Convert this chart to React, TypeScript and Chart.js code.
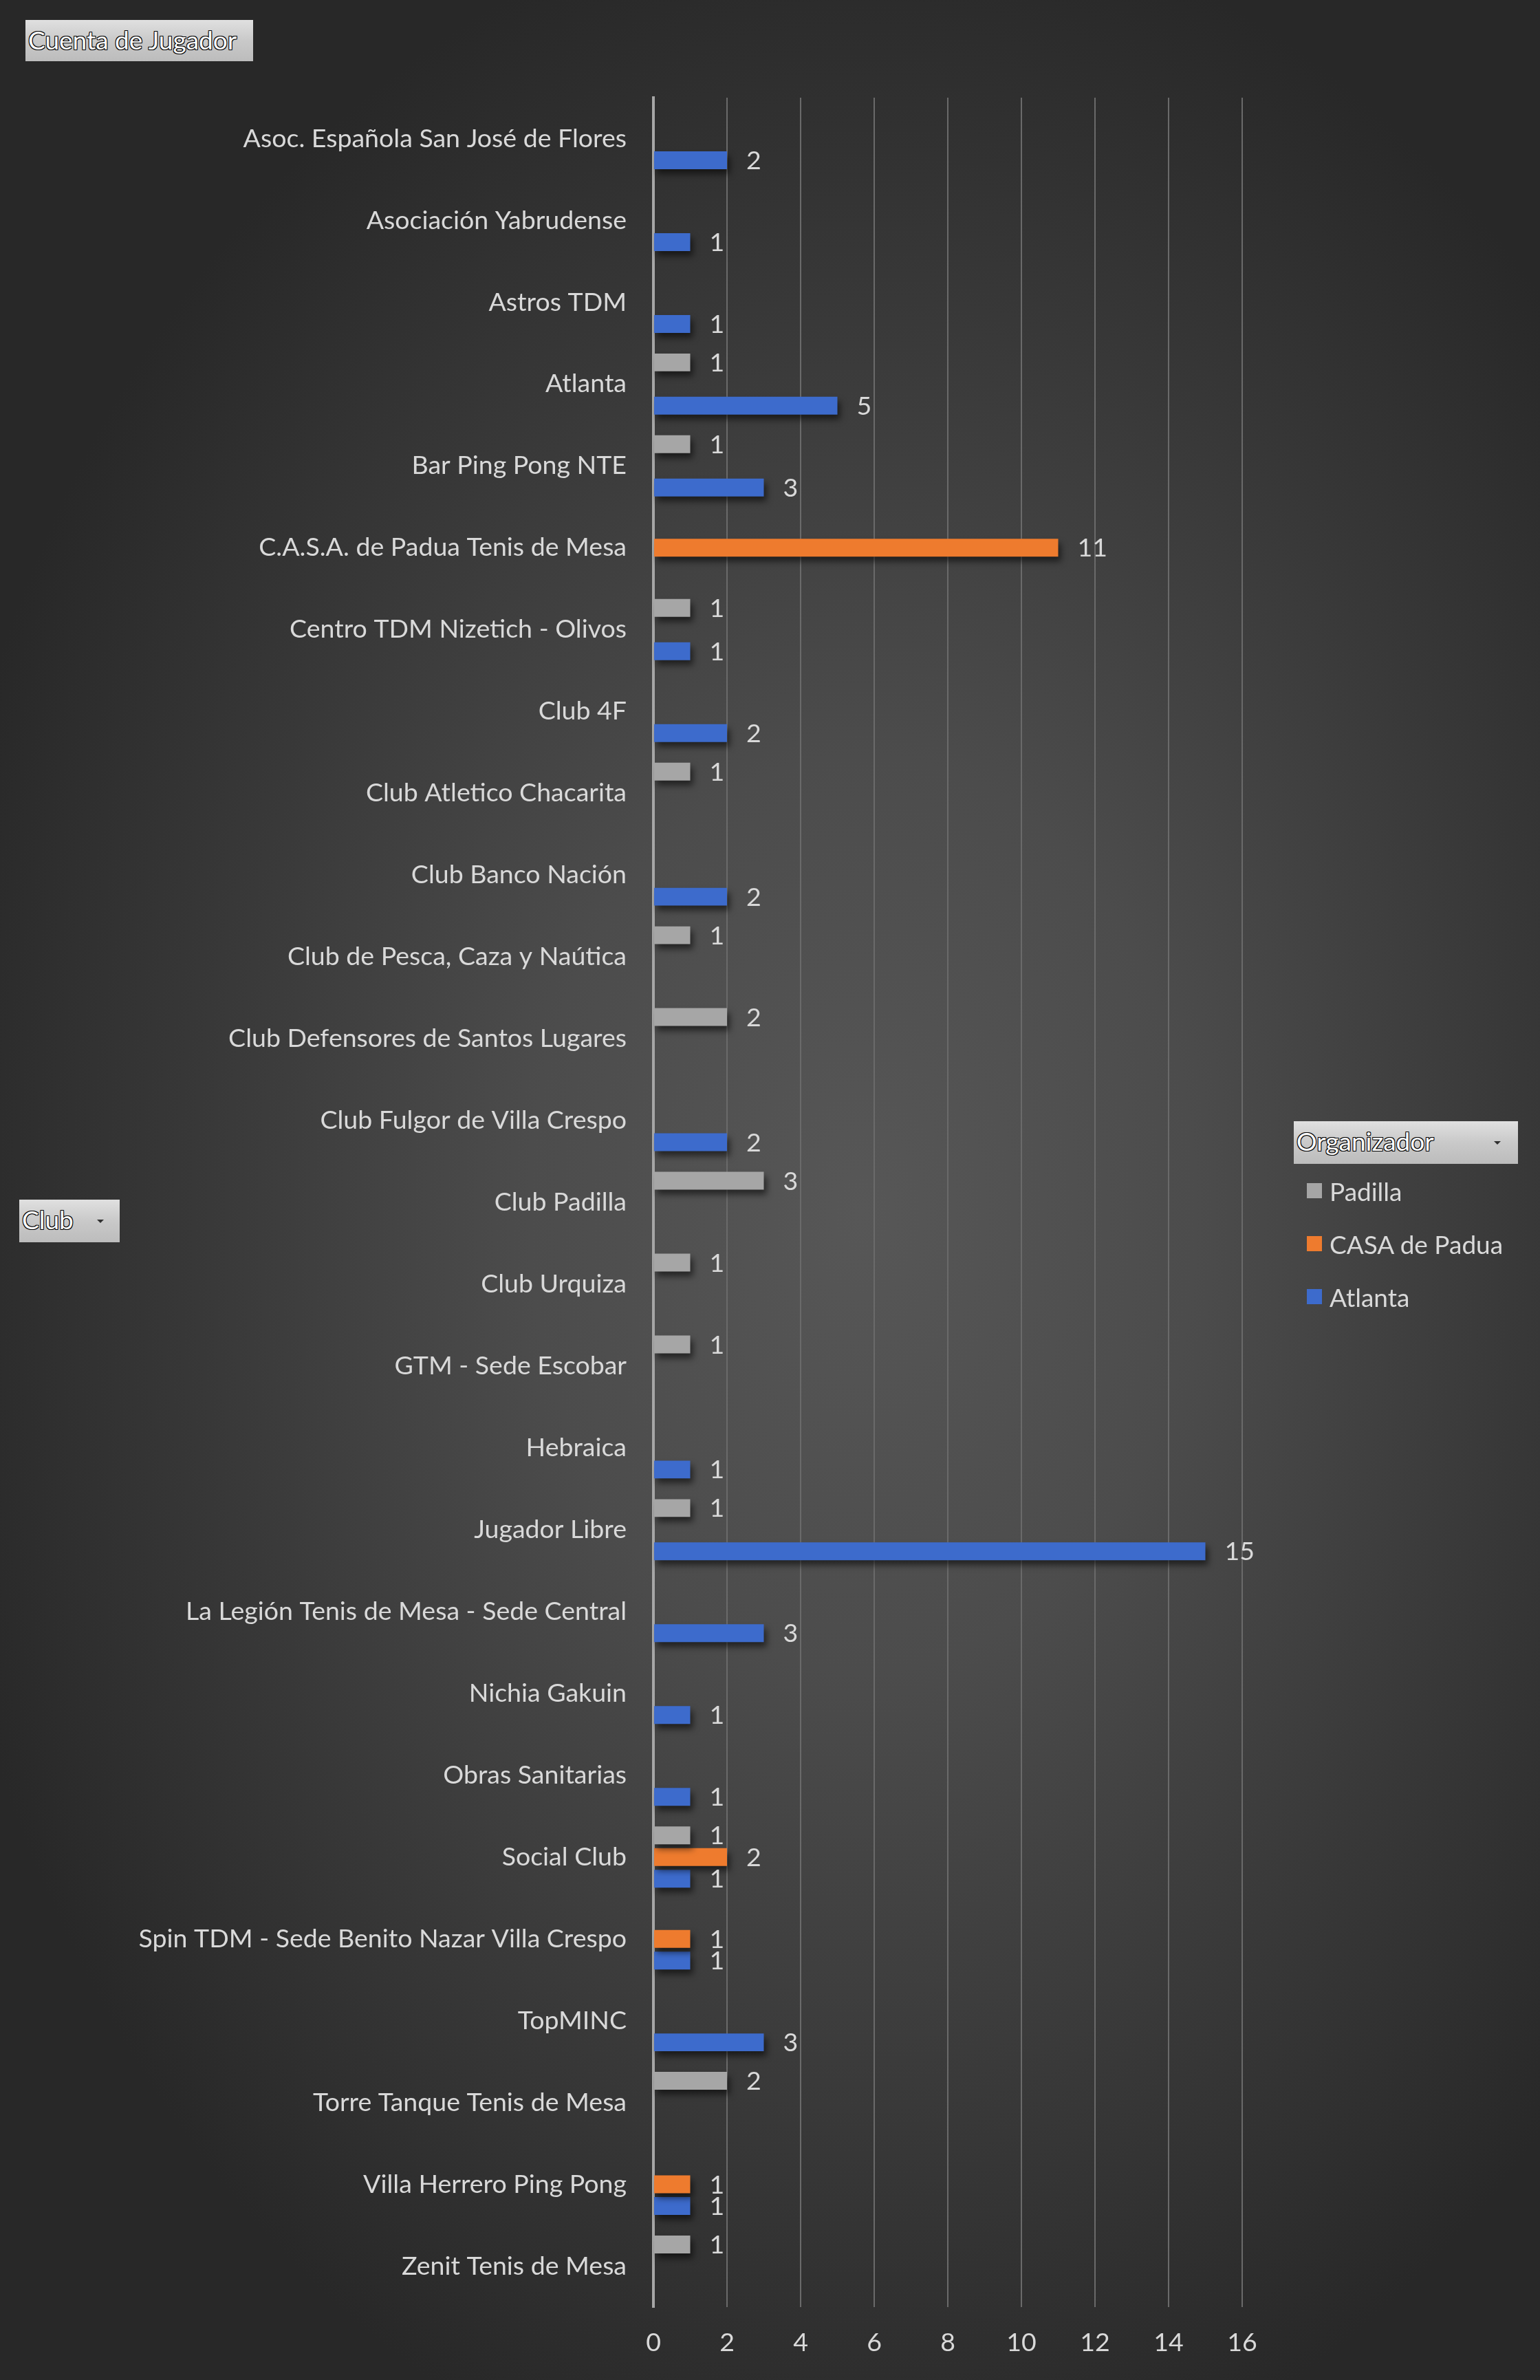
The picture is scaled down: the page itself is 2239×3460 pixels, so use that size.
import React, { useEffect, useRef } from "react";
import { Chart, registerables } from "chart.js";

Chart.register(...registerables);

const categories = [
  "Asoc. Española San José de Flores",
  "Asociación Yabrudense",
  "Astros TDM",
  "Atlanta",
  "Bar Ping Pong NTE",
  "C.A.S.A. de Padua Tenis de Mesa",
  "Centro TDM Nizetich - Olivos",
  "Club 4F",
  "Club Atletico Chacarita",
  "Club Banco Nación",
  "Club de Pesca, Caza y Naútica",
  "Club Defensores de Santos Lugares",
  "Club Fulgor de Villa Crespo",
  "Club Padilla",
  "Club Urquiza",
  "GTM - Sede Escobar",
  "Hebraica",
  "Jugador Libre",
  "La Legión Tenis de Mesa - Sede Central",
  "Nichia Gakuin",
  "Obras Sanitarias",
  "Social Club",
  "Spin TDM - Sede Benito Nazar Villa Crespo",
  "TopMINC",
  "Torre Tanque Tenis de Mesa",
  "Villa Herrero Ping Pong",
  "Zenit Tenis de Mesa",
];

const padillaValues = [null, null, null, 1, 1, null, 1, null, 1, null, 1, 2, null, 3, 1, 1, null, 1, null, null, null, 1, null, null, 2, null, 1];
const casaValues = [null, null, null, null, null, 11, null, null, null, null, null, null, null, null, null, null, null, null, null, null, null, 2, 1, null, null, 1, null];
const atlantaValues = [2, 1, 1, 5, 3, null, 1, 2, null, 2, null, null, 2, null, null, null, 1, 15, 3, 1, 1, 1, 1, 3, null, 1, null];

const seriesNames = ["Padilla", "CASA de Padua", "Atlanta"];
const seriesColors = ["#a6a6a6", "#ee7b2e", "#3d6bcc"];
const xTicks = [0, 2, 4, 6, 8, 10, 12, 14, 16];

const FONT = "Lato, 'Open Sans', sans-serif";
const TEXT = "#d9d9d9";
const FS = 37.5;

const shadowPlugin = {
  id: "barShadow",
  beforeDatasetsDraw(chart: any) {
    const ctx = chart.ctx;
    ctx.save();
    ctx.shadowColor = "rgba(0,0,0,0.55)";
    ctx.shadowBlur = 10;
    ctx.shadowOffsetX = 4;
    ctx.shadowOffsetY = 7;
  },
  afterDatasetsDraw(chart: any) {
    chart.ctx.restore();
  },
};

const labelPlugin = {
  id: "valueLabels",
  afterDatasetsDraw(chart: any) {
    const ctx = chart.ctx;
    ctx.save();
    ctx.font = `${FS}px ${FONT}`;
    ctx.fillStyle = TEXT;
    ctx.textAlign = "left";
    ctx.textBaseline = "middle";
    chart.data.datasets.forEach((ds: any, i: number) => {
      const meta = chart.getDatasetMeta(i);
      meta.data.forEach((el: any, j: number) => {
        const v = ds.data[j];
        if (v === null || v === undefined) return;
        ctx.fillText(String(v), el.x + 28, el.y + 1);
      });
    });
    ctx.restore();
  },
};

const btnStyle: React.CSSProperties = {
  position: "absolute",
  background: "linear-gradient(#e0e0e0, #c9c9c9 50%, #bcbcbc)",
  color: "#ffffff",
  fontFamily: FONT,
  fontSize: 37,
  lineHeight: "58px",
  paddingLeft: 4,
  boxSizing: "border-box",
  overflow: "hidden",
  whiteSpace: "nowrap",
  textShadow: "1px 1px 0 #000, -1px -1px 0 #000, 1px -1px 0 #000, -1px 1px 0 #000",
};

const arrowStyle = (left: number, top: number): React.CSSProperties => ({
  position: "absolute",
  left,
  top,
  width: 0,
  height: 0,
  borderLeft: "5px solid transparent",
  borderRight: "5px solid transparent",
  borderTop: "5px solid #303030",
});

export default function App() {
  const ref = useRef<HTMLCanvasElement>(null);

  useEffect(() => {
    if (!ref.current) return;
    const datasets = [padillaValues, casaValues, atlantaValues].map((vals, i) => ({
      label: seriesNames[i],
      data: vals,
      backgroundColor: seriesColors[i],
      borderWidth: 0,
      categoryPercentage: 0.794,
      barPercentage: 0.825,
    }));
    const chart = new Chart(ref.current, {
      type: "bar",
      data: { labels: categories, datasets },
      options: {
        indexAxis: "y",
        animation: false,
        responsive: false,
        maintainAspectRatio: false,
        layout: { padding: { top: 142, right: 433, bottom: 0, left: 0 } },
        plugins: {
          legend: { display: false },
          tooltip: { enabled: false },
          title: { display: false },
        },
        scales: {
          x: {
            type: "linear",
            min: 0,
            max: 16,
            afterBuildTicks(scale: any) {
              scale.ticks = xTicks.map((v) => ({ value: v }));
            },
            afterFit(scale: any) {
              scale.height = 106;
            },
            grid: { color: "#6a6a6a", lineWidth: 2, drawTicks: false },
            border: { display: false },
            ticks: {
              color: TEXT,
              font: { family: FONT, size: FS },
              padding: 29,
              maxRotation: 0,
            },
          },
          y: {
            type: "category",
            afterFit(scale: any) {
              scale.width = 950;
            },
            grid: { display: false, drawTicks: false },
            border: { display: true, color: "#a6a6a6", width: 4 },
            ticks: {
              color: TEXT,
              font: { family: FONT, size: FS },
              padding: 39,
              autoSkip: false,
            },
          },
        },
      } as any,
      plugins: [shadowPlugin, labelPlugin],
    });
    return () => chart.destroy();
  }, []);

  const legendItems = seriesNames.map((name, i) => (
    <div
      key={name}
      style={{
        position: "absolute",
        left: 1900,
        top: 1731 + i * 77 - 25,
        height: 50,
        display: "flex",
        alignItems: "center",
        fontFamily: FONT,
        fontSize: 37,
        color: TEXT,
        whiteSpace: "nowrap",
      }}
    >
      <span style={{ display: "inline-block", width: 22, height: 22, background: seriesColors[i], marginRight: 11 }} />
      <span>{name}</span>
    </div>
  ));

  return (
    <div
      style={{
        position: "absolute",
        left: 0,
        top: 0,
        width: 2239,
        height: 3460,
        overflow: "hidden",
        background:
          "radial-gradient(ellipse 62% 55% at 56% 51%, #575757 0%, #4c4c4c 35%, #383838 70%, #282828 100%)",
      }}
    >
      <canvas ref={ref} width={2239} height={3460} style={{ position: "absolute", left: 0, top: 0, width: 2239, height: 3460 }} />
      <div style={{ ...btnStyle, left: 37, top: 29, width: 331, height: 60 }}>Cuenta de Jugador</div>
      <div style={{ ...btnStyle, left: 28, top: 1744, width: 146, height: 62 }}>
        Club
        <div style={arrowStyle(113, 29)} />
      </div>
      <div style={{ ...btnStyle, left: 1881, top: 1630, width: 326, height: 62 }}>
        Organizador
        <div style={arrowStyle(291, 29)} />
      </div>
      {legendItems}
    </div>
  );
}
